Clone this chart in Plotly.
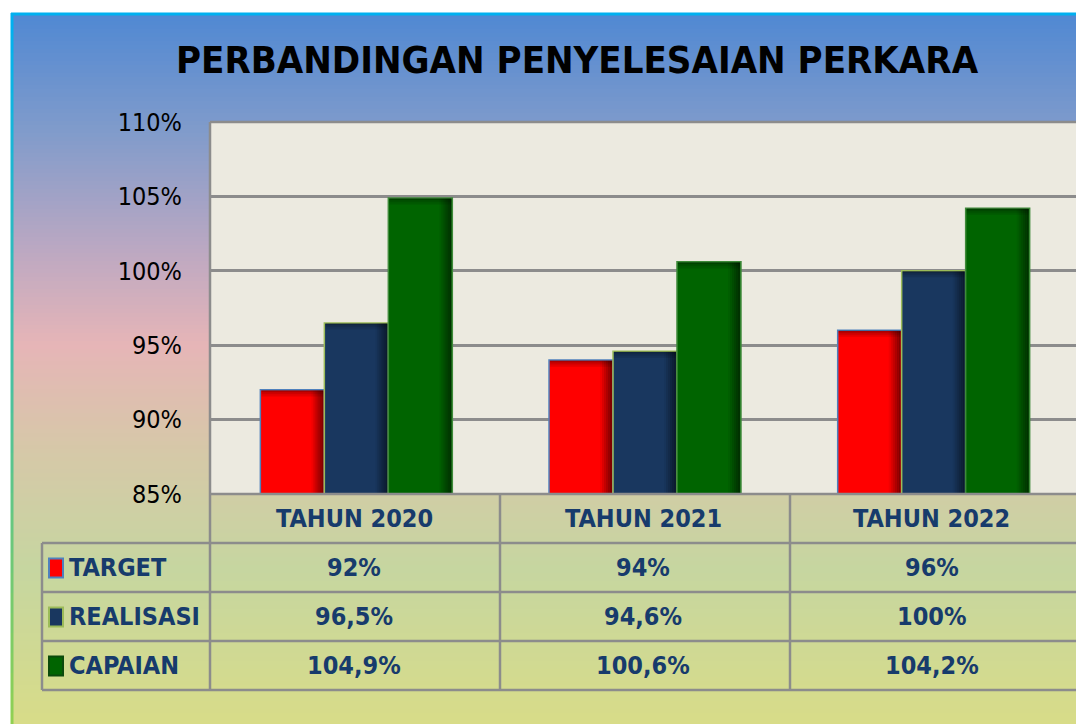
import plotly.graph_objects as go

# ---- data ----
categories = ["TAHUN 2020", "TAHUN 2021", "TAHUN 2022"]
series_names = ["TARGET", "REALISASI", "CAPAIAN"]
target = [92, 94, 96]
realisasi = [96.5, 94.6, 100]
capaian = [104.9, 100.6, 104.2]
y_ticks = [85, 90, 95, 100, 105, 110]
y_tick_text = ["85%", "90%", "95%", "100%", "105%", "110%"]
title_text = "PERBANDINGAN PENYELESAIAN PERKARA"

W, H = 1076, 724


def px(x):
    return x / W


def py(y):
    return 1 - y / H


def fmt(v):
    return f"{v:g}".replace(".", ",") + "%"


NARROW = "DejaVu Sans Condensed, Liberation Sans Narrow, Roboto, sans-serif"
TXT = "#173B6C"
GRID = "#8C8C8C"
PLOT_BG = "#ECEAE0"

series = [target, realisasi, capaian]
fills = ["#FF0000", "#19375F", "#006400"]
borders = ["#4F81BD", "#9BBB59", "#3F8A3A"]
key_borders = ["#4F81BD", "#9BBB59", "#0B4A0B"]

BARGAP = 0.335
bw = (1 - BARGAP) / len(series)          # bar width in category units
unit_px = (W - 210) / 3                  # pixels per category unit
px_u = 1 / unit_px

fig = go.Figure()
x_idx = list(range(len(categories)))
for s, (name, vals, fc, bc) in enumerate(zip(series_names, series, fills, borders)):
    off = -(1 - BARGAP) / 2 + s * bw + 2 * px_u
    fig.add_trace(go.Bar(
        x=x_idx, y=vals, name=name, base=0, width=bw, offset=off,
        marker=dict(color=fc, line=dict(color=bc, width=1.5)),
        showlegend=False,
    ))
    # right-edge shading (Excel-like bevel)
    n_strips = 6
    for k in range(n_strips):
        a = 0.05 + 0.09 * k
        fig.add_trace(go.Bar(
            x=x_idx, y=[v - 85 - 0.05 for v in vals], base=85, width=2 * px_u,
            offset=off + bw - (n_strips - k) * 2 * px_u - 1 * px_u,
            marker=dict(color=f"rgba(0,0,0,{a:.2f})", line=dict(width=0)),
            showlegend=False, hoverinfo="skip",
        ))
    # top shading
    for k, a in enumerate([0.32, 0.2, 0.1]):
        fig.add_trace(go.Bar(
            x=x_idx, y=[0.14] * len(vals), base=[v - 0.14 * (k + 1) - 0.02 for v in vals],
            width=bw - 2 * px_u, offset=off + 1 * px_u,
            marker=dict(color=f"rgba(0,0,0,{a:.2f})", line=dict(width=0)),
            showlegend=False, hoverinfo="skip",
        ))

shapes = []

stops = [
    (13, (0x4F, 0x88, 0xD3)),
    (130, (0x80, 0x9B, 0xCB)),
    (250, (0xBC, 0xA8, 0xC2)),
    (345, (0xE6, 0xB5, 0xB7)),
    (450, (0xD6, 0xC8, 0xA8)),
    (570, (0xC6, 0xD6, 0xA0)),
    (724, (0xD8, 0xDC, 0x88)),
]


def color_at(y):
    for (y0, c0), (y1, c1) in zip(stops[:-1], stops[1:]):
        if y0 <= y <= y1:
            t = (y - y0) / (y1 - y0)
            return "rgb(%d,%d,%d)" % tuple(round(a + (b - a) * t) for a, b in zip(c0, c1))
    return "rgb(%d,%d,%d)" % stops[-1][1]


step = 4
y = 13
while y < H:
    shapes.append(dict(type="rect", xref="paper", yref="paper", layer="below",
                       x0=px(11), x1=1, y0=py(min(y + step + 1, H)), y1=py(y),
                       fillcolor=color_at(y + step / 2), line=dict(width=0)))
    y += step

# plot-area background over the gradient
shapes.append(dict(type="rect", xref="paper", yref="paper", layer="below",
                   x0=px(210), x1=1, y0=py(494), y1=py(122),
                   fillcolor=PLOT_BG, line=dict(width=0)))

shapes.append(dict(type="line", xref="paper", yref="paper", layer="below",
                   x0=px(11), x1=1, y0=py(14), y1=py(14),
                   line=dict(color="#00B0F0", width=3)))
seg = 20
y = 13
while y < H:
    t = (y - 13) / (H - 13)
    c = tuple(round(a + (b - a) * t) for a, b in zip((0x00, 0xB0, 0xF0), (0x92, 0xD0, 0x50)))
    shapes.append(dict(type="line", xref="paper", yref="paper", layer="below",
                       x0=px(12), x1=px(12), y0=py(min(y + seg, H)), y1=py(y),
                       line=dict(color="rgb(%d,%d,%d)" % c, width=3)))
    y += seg

row_y = [494, 543, 592, 641, 690]
col_x = [210, 500, 790]
tline = dict(color=GRID, width=2.5)
shapes.append(dict(type="line", xref="paper", yref="paper", x0=px(210), x1=1,
                   y0=py(row_y[0]), y1=py(row_y[0]), line=tline))
for ry in row_y[1:]:
    shapes.append(dict(type="line", xref="paper", yref="paper", x0=px(42), x1=1,
                       y0=py(ry), y1=py(ry), line=tline))
shapes.append(dict(type="line", xref="paper", yref="paper", x0=px(42), x1=px(42),
                   y0=py(row_y[1]), y1=py(row_y[-1]), line=tline))
shapes.append(dict(type="line", xref="paper", yref="paper", x0=px(210), x1=px(210),
                   y0=py(122), y1=py(row_y[-1]), line=tline))
for cx in col_x[1:]:
    shapes.append(dict(type="line", xref="paper", yref="paper", x0=px(cx), x1=px(cx),
                       y0=py(row_y[0]), y1=py(row_y[-1]), line=tline))
shapes.append(dict(type="line", xref="paper", yref="paper", x0=px(210), x1=1,
                   y0=py(122), y1=py(122), line=tline))

TSIZE = 25
annotations = []
for i, cat in enumerate(categories):
    annotations.append(dict(x=i, y=py((row_y[0] + row_y[1]) / 2), xref="x", yref="paper",
                            text=f"<b>{cat}</b>", showarrow=False,
                            font=dict(family=NARROW, size=TSIZE, color=TXT),
                            xanchor="center", yanchor="middle"))
for r, (name, vals, fc, kb) in enumerate(zip(series_names, series, fills, key_borders)):
    yc = (row_y[r + 1] + row_y[r + 2]) / 2
    shapes.append(dict(type="rect", xref="paper", yref="paper",
                       x0=px(49), x1=px(63), y0=py(yc + 10), y1=py(yc - 9),
                       fillcolor=fc, line=dict(color=kb, width=2)))
    annotations.append(dict(x=px(67), y=py(yc), xref="paper", yref="paper",
                            text=f"<b>{name}</b>", showarrow=False,
                            font=dict(family=NARROW, size=TSIZE, color=TXT),
                            xanchor="left", yanchor="middle"))
    for i, v in enumerate(vals):
        annotations.append(dict(x=i, y=py(yc), xref="x", yref="paper",
                                text=f"<b>{fmt(v)}</b>", showarrow=False,
                                font=dict(family=NARROW, size=TSIZE, color=TXT),
                                xanchor="center", yanchor="middle"))

annotations.append(dict(x=px(577), y=py(60), xref="paper", yref="paper",
                        text=f"<b>{title_text}</b>", showarrow=False,
                        font=dict(family=NARROW, size=38, color="#000000"),
                        xanchor="center", yanchor="middle"))

fig.update_layout(
    width=W, height=H,
    margin=dict(l=0, r=0, t=0, b=0),
    paper_bgcolor="#FFFFFF",
    plot_bgcolor=PLOT_BG,
    barmode="overlay",
    shapes=shapes, annotations=annotations,
    xaxis=dict(domain=[px(210), 1], range=[-0.5, 2.5], showticklabels=False,
               showgrid=False, zeroline=False, fixedrange=True),
    yaxis=dict(domain=[py(494), py(122)], range=[85, 110], tickvals=y_ticks,
               ticktext=y_tick_text, automargin=False,
               showgrid=True, gridcolor=GRID, gridwidth=2.5,
               zeroline=False, ticks="outside", ticklen=22, tickcolor="rgba(0,0,0,0)",
               tickfont=dict(family="DejaVu Sans Condensed, Liberation Sans Narrow, sans-serif",
                             size=25, color="#000000")),
    font=dict(family=NARROW),
)

fig.write_html("out.html", config={"displayModeBar": False},
               post_script="document.body.style.margin='0';")
